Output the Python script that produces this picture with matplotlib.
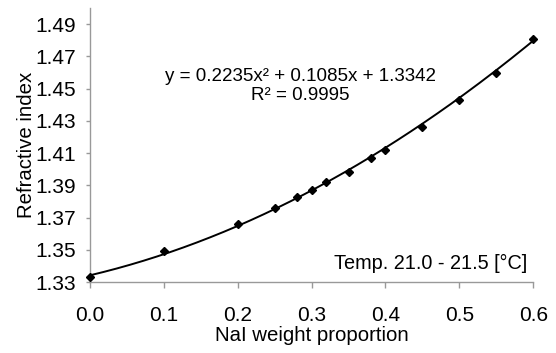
import numpy as np
import matplotlib
matplotlib.use("Agg")
import matplotlib.pyplot as plt

# measured points
nai_weight = [0.0, 0.1, 0.2, 0.25, 0.28, 0.30, 0.32, 0.35, 0.38, 0.40, 0.45, 0.50, 0.55, 0.60]
refr_index = [1.333, 1.349, 1.366, 1.376, 1.383, 1.387, 1.392, 1.398, 1.407, 1.412, 1.426, 1.443, 1.460, 1.481]

# quadratic trendline shown on the chart
fit_coef = [0.2235, 0.1085, 1.3342]
r_squared = 0.9995

x_ticks = [0.0, 0.1, 0.2, 0.3, 0.4, 0.5, 0.6]
y_ticks = [1.33, 1.35, 1.37, 1.39, 1.41, 1.43, 1.45, 1.47, 1.49]

plt.rcParams['font.family'] = ['Liberation Sans', 'DejaVu Sans']

fig = plt.figure(figsize=(5.56, 3.53), dpi=100)
ax = fig.add_axes([0.162, 0.201, 0.797, 0.776])

xs = np.linspace(0, 0.6, 200)
ax.plot(xs, np.polyval(fit_coef, xs), color='black', lw=1.4, zorder=2)
ax.plot(nai_weight, refr_index, linestyle='none', marker='D', ms=4.5,
        color='black', zorder=3, clip_on=False)

ax.set_xlim(0, 0.6)
ax.set_ylim(1.33, 1.50)
ax.set_xticks(x_ticks)
ax.set_xticklabels([f"{t:.1f}" for t in x_ticks])
ax.set_yticks(y_ticks)
ax.set_yticklabels([f"{t:.2f}" for t in y_ticks])

for s in ['top', 'right']:
    ax.spines[s].set_visible(False)
for s in ['left', 'bottom']:
    ax.spines[s].set_color('#999999')
    ax.spines[s].set_linewidth(1.0)
ax.tick_params(axis='both', colors='#999999', labelcolor='black', labelsize=15, width=1.0)
ax.tick_params(axis='x', length=4, pad=13)
ax.tick_params(axis='y', length=3, pad=7)

ax.set_xlabel('NaI weight proportion', fontsize=14.7, labelpad=1)
ax.set_ylabel('Refractive index', fontsize=14.7, labelpad=0)

a, b, c = fit_coef
ax.text(0.474, 0.715, f"y = {a:.4f}x\u00b2 + {b:.4f}x + {c:.4f}\nR\u00b2 = {r_squared:.4f}",
        transform=ax.transAxes, ha='center', va='center', multialignment='center',
        fontsize=13.5, linespacing=1.2)
ax.text(0.986, 0.069, "Temp. 21.0 - 21.5 [\u00b0C]", transform=ax.transAxes,
        ha='right', va='center', fontsize=14.3)

fig.savefig('out.png', dpi=100)
